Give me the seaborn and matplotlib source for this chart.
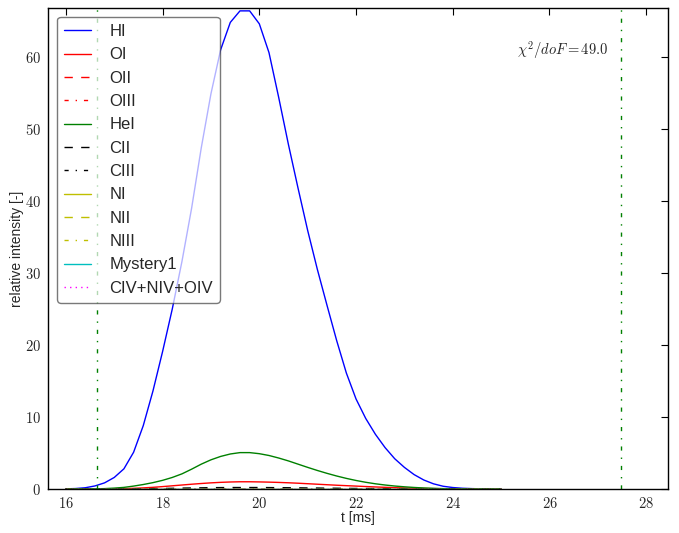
import numpy as np
import matplotlib
matplotlib.use("Agg")
import matplotlib.pyplot as plt
import seaborn as sns
from matplotlib.ticker import FuncFormatter

# time grid of the samples [ms]
t = np.round(np.arange(16.0, 25.01, 0.2), 1)

# one value per sample of t
HI = [0.02, 0.06, 0.17, 0.42, 0.85, 1.6, 2.8, 5.1, 8.8, 13.6, 19.1,
      25.0, 31.6, 39.0, 47.4, 54.9, 61.0, 64.8, 66.4, 66.4, 64.6, 60.6,
      54.4, 47.9, 41.8, 35.9, 30.5, 25.5, 20.6, 16.1, 12.5, 9.8, 7.6,
      5.75, 4.2, 3.0, 2.0, 1.25, 0.72, 0.38, 0.2, 0.1, 0.05, 0.02, 0.0, 0.0]
HeI = [0.0, 0.0, 0.01, 0.02, 0.05, 0.12, 0.22, 0.4, 0.62, 0.88, 1.2,
       1.6, 2.1, 2.75, 3.45, 4.05, 4.52, 4.86, 5.05, 5.05, 4.9, 4.65,
       4.3, 3.9, 3.45, 3.0, 2.57, 2.17, 1.8, 1.47, 1.18, 0.93, 0.72,
       0.55, 0.41, 0.3, 0.21, 0.14, 0.09, 0.05, 0.03, 0.01, 0.0, 0.0, 0.0, 0.0]
OI = [0.0, 0.0, 0.0, 0.01, 0.02, 0.03, 0.05, 0.09, 0.15, 0.23, 0.33,
      0.44, 0.55, 0.66, 0.76, 0.85, 0.92, 0.97, 1.0, 1.0, 0.98, 0.95,
      0.91, 0.86, 0.8, 0.73, 0.66, 0.59, 0.52, 0.46, 0.4, 0.34, 0.28,
      0.23, 0.18, 0.14, 0.1, 0.07, 0.05, 0.03, 0.02, 0.01, 0.0, 0.0, 0.0, 0.0]
CII = [0.0, 0.0, 0.0, 0.0, 0.0, 0.0, 0.01, 0.02, 0.03, 0.05, 0.07,
       0.09, 0.12, 0.14, 0.16, 0.18, 0.19, 0.2, 0.2, 0.2, 0.2, 0.19,
       0.18, 0.17, 0.16, 0.14, 0.13, 0.11, 0.1, 0.08, 0.07, 0.06, 0.05,
       0.04, 0.03, 0.02, 0.01, 0.0, 0.0, 0.0, 0.0, 0.0, 0.0, 0.0, 0.0, 0.0]
zero = [0.0] * len(t)   # species that stay at zero

species = ["HI", "OI", "OII", "OIII", "HeI", "CII", "CIII",
           "NI", "NII", "NIII", "Mystery1", "CIV+NIV+OIV"]
values = [HI, OI, zero, zero, HeI, CII, zero, zero, zero, zero, zero, zero]
colors = ["#0000ff", "#ff0000", "#ff0000", "#ff0000", "#008000", "#000000", "#000000",
          "#bfbf00", "#bfbf00", "#bfbf00", "#00bfbf", "#ff00ff"]
styles = ["-", "-", "--", "-.", "-", "--", "-.", "-", "--", "-.", "-", ":"]

t_limits = [16.65, 27.47]   # green markers
chi2 = 49.0

# old-style dash patterns
dash = {"-": "-", "--": (0, (6, 6)), "-.": (0, (3, 5, 1, 5)), ":": (0, (1, 3))}

sns.set_style("white")
plt.rcParams["font.family"] = ["Liberation Sans", "DejaVu Sans"]
plt.rcParams["mathtext.fontset"] = "cm"

fig = plt.figure(figsize=(6.79, 5.33), dpi=100)
ax = fig.add_axes([0.0707, 0.0826, 0.913, 0.9024])

for name, v, c, ls in zip(species, values, colors, styles):
    sns.lineplot(x=t, y=v, color=c, linestyle=dash[ls], linewidth=1.0, label=name, ax=ax)

for tl in t_limits:
    ax.axvline(tl, color="#008000", linestyle=dash["-."], linewidth=1.0)

ax.text(25.33, 61, r"$\chi^2/doF = %.1f$" % chi2, fontsize=10.5, va="center", ha="left")

ax.set_xlim(15.63, 28.45)
ax.set_ylim(0, 66.8)
ax.set_xticks([16, 18, 20, 22, 24, 26, 28])
ax.set_yticks([0, 10, 20, 30, 40, 50, 60])
fmt = FuncFormatter(lambda v, p: r"$%g$" % v)
ax.xaxis.set_major_formatter(fmt)
ax.yaxis.set_major_formatter(fmt)
ax.tick_params(direction="in", top=True, right=True, length=5, width=0.8,
               labelsize=10.5, pad=5, color="k")
for sp in ax.spines.values():
    sp.set_color("k")
    sp.set_linewidth(1.0)
ax.set_xlabel("t [ms]", fontsize=10, labelpad=0)
ax.set_ylabel("relative intensity [-]", fontsize=10, labelpad=1)

leg = ax.legend(loc="upper left", fontsize=12, fancybox=True, framealpha=0.7,
                handlelength=1.6, handletextpad=1.1, labelspacing=0.5,
                borderaxespad=0.55, borderpad=0.42)
leg.get_frame().set_edgecolor("0.25")
leg.get_frame().set_linewidth(1.0)

fig.savefig("out.png", dpi=100, facecolor="white")
